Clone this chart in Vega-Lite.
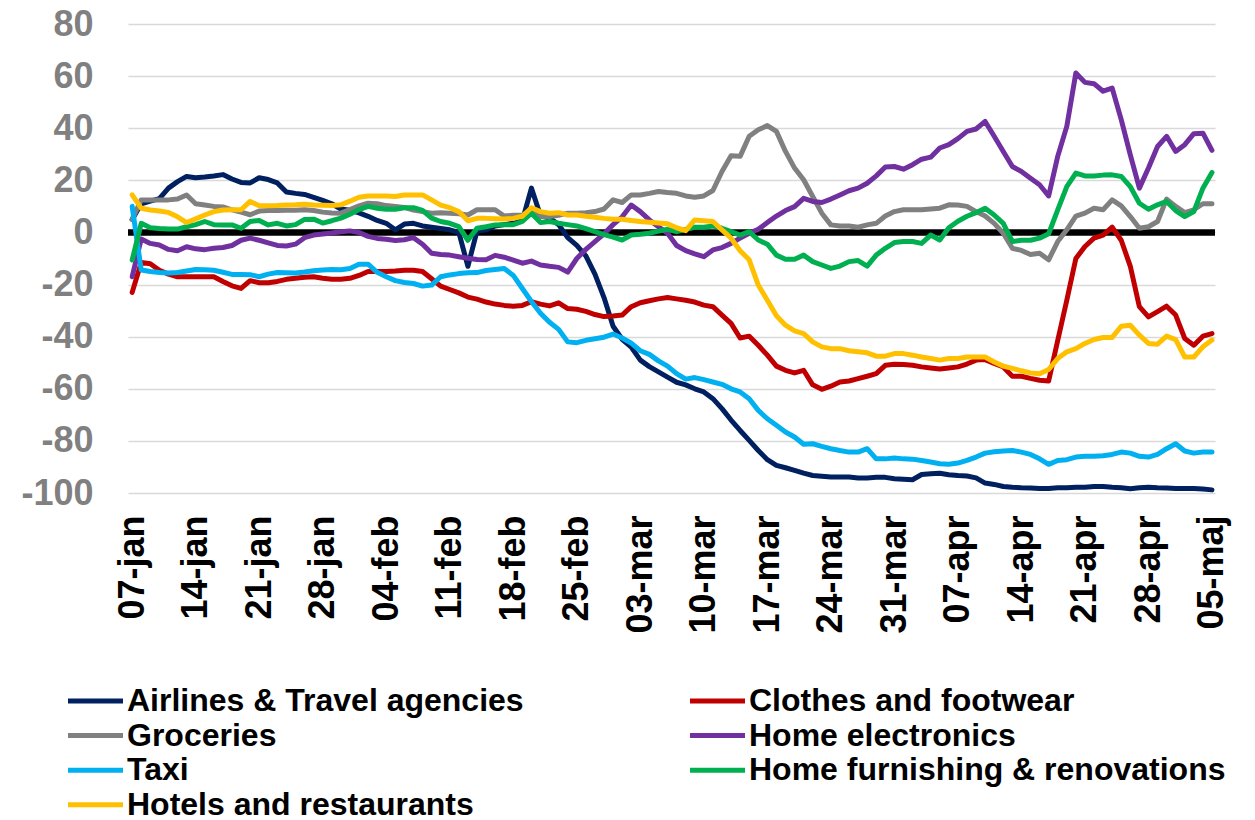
{
  "$schema": "https://vega.github.io/schema/vega-lite/v6.json",
  "width": 1087,
  "height": 469,
  "autosize": {"type": "none"},
  "padding": {"left": 128, "top": 24, "right": 40, "bottom": 327},
  "background": "white",
  "config": {
    "view": {"stroke": null},
    "font": "Liberation Sans",
    "axisY": {
      "title": null,
      "domain": false,
      "ticks": false,
      "grid": true,
      "gridColor": "#d9d9d9",
      "gridWidth": 1.5,
      "labelFont": "Liberation Sans",
      "labelFontSize": 36,
      "labelFontWeight": "bold",
      "labelColor": "#808080",
      "labelPadding": 35,
      "labelExpr": "'' + datum.value"
    }
  },
  "layer": [
    {
      "data": {"values": [{}]},
      "mark": {"type": "rule", "color": "black", "strokeWidth": 6.5},
      "encoding": {
        "y": {
          "datum": 0,
          "type": "quantitative",
          "scale": {"domain": [-100, 80], "nice": false, "zero": false},
          "axis": {"title": null, "values": [-100, -80, -60, -40, -20, 0, 20, 40, 60, 80]}
        }
      }
    },
    {
      "data": {
        "format": {"parse": {"d": "utc:'%Y-%m-%d'"}},
        "values": [
{"d":"2020-01-07","airlines":5,"clothes":-23,"groceries":5,"electronics":-17,"taxi":10,"furnishing":-10.6,"hotels":14.4},
{"d":"2020-01-08","airlines":11,"clothes":-11.5,"groceries":12.5,"electronics":-2.5,"taxi":-14.4,"furnishing":3.5,"hotels":9.3},
{"d":"2020-01-09","airlines":12,"clothes":-12,"groceries":12.5,"electronics":-4.2,"taxi":-15,"furnishing":1.8,"hotels":8.6},
{"d":"2020-01-10","airlines":13,"clothes":-14.5,"groceries":12.5,"electronics":-4.8,"taxi":-15.4,"furnishing":1.5,"hotels":8.2},
{"d":"2020-01-11","airlines":17,"clothes":-16,"groceries":12.5,"electronics":-6.5,"taxi":-15.6,"furnishing":1.3,"hotels":7.7},
{"d":"2020-01-12","airlines":19.5,"clothes":-17,"groceries":12.8,"electronics":-7,"taxi":-15.4,"furnishing":1.3,"hotels":6},
{"d":"2020-01-13","airlines":21.5,"clothes":-17,"groceries":14.4,"electronics":-5.5,"taxi":-14.8,"furnishing":2.2,"hotels":3.8},
{"d":"2020-01-14","airlines":21,"clothes":-17,"groceries":11,"electronics":-6.3,"taxi":-14.2,"furnishing":3,"hotels":5.2},
{"d":"2020-01-15","airlines":21.3,"clothes":-17,"groceries":10.5,"electronics":-6.6,"taxi":-14.3,"furnishing":4.2,"hotels":6.7},
{"d":"2020-01-16","airlines":21.7,"clothes":-17,"groceries":10,"electronics":-6.1,"taxi":-14.5,"furnishing":3,"hotels":8},
{"d":"2020-01-17","airlines":22.2,"clothes":-18.8,"groceries":9.8,"electronics":-5.8,"taxi":-15.3,"furnishing":2.9,"hotels":8.6},
{"d":"2020-01-18","airlines":20.5,"clothes":-20.5,"groceries":8.7,"electronics":-5,"taxi":-16.1,"furnishing":2.9,"hotels":8.7},
{"d":"2020-01-19","airlines":19.2,"clothes":-21.5,"groceries":7.8,"electronics":-3,"taxi":-16.1,"furnishing":1.6,"hotels":8.7},
{"d":"2020-01-20","airlines":19,"clothes":-18.5,"groceries":6.8,"electronics":-2.2,"taxi":-16.2,"furnishing":4.2,"hotels":11.9},
{"d":"2020-01-21","airlines":21,"clothes":-19.3,"groceries":8.2,"electronics":-3,"taxi":-17,"furnishing":4.6,"hotels":10.2},
{"d":"2020-01-22","airlines":20.3,"clothes":-19.3,"groceries":8.4,"electronics":-4,"taxi":-16,"furnishing":2.9,"hotels":10.2},
{"d":"2020-01-23","airlines":19,"clothes":-18.8,"groceries":8.4,"electronics":-5,"taxi":-15.4,"furnishing":3.5,"hotels":10.3},
{"d":"2020-01-24","airlines":15.5,"clothes":-18,"groceries":8.5,"electronics":-5.2,"taxi":-15.5,"furnishing":2.5,"hotels":10.5},
{"d":"2020-01-25","airlines":15,"clothes":-17.6,"groceries":8.5,"electronics":-4.5,"taxi":-15.6,"furnishing":3,"hotels":10.6},
{"d":"2020-01-26","airlines":14.6,"clothes":-17.2,"groceries":8.7,"electronics":-2,"taxi":-15.2,"furnishing":5,"hotels":10.8},
{"d":"2020-01-27","airlines":13.5,"clothes":-17,"groceries":8.4,"electronics":-1,"taxi":-14.7,"furnishing":5.1,"hotels":10.5},
{"d":"2020-01-28","airlines":12.3,"clothes":-17.6,"groceries":7.8,"electronics":-0.6,"taxi":-14.4,"furnishing":3.6,"hotels":10.4},
{"d":"2020-01-29","airlines":11,"clothes":-18,"groceries":7.5,"electronics":-0.2,"taxi":-14.2,"furnishing":4.5,"hotels":10.3},
{"d":"2020-01-30","airlines":9,"clothes":-18,"groceries":7.4,"electronics":0.3,"taxi":-14.3,"furnishing":5.5,"hotels":10.6},
{"d":"2020-01-31","airlines":8.5,"clothes":-17.6,"groceries":8.8,"electronics":0.6,"taxi":-13.8,"furnishing":7,"hotels":12},
{"d":"2020-02-01","airlines":7.5,"clothes":-16.5,"groceries":10.2,"electronics":0,"taxi":-12.2,"furnishing":8.8,"hotels":13.5},
{"d":"2020-02-02","airlines":6.2,"clothes":-15,"groceries":11.2,"electronics":-1.5,"taxi":-12.2,"furnishing":10,"hotels":14},
{"d":"2020-02-03","airlines":4.6,"clothes":-15,"groceries":11,"electronics":-2.3,"taxi":-15.3,"furnishing":9.3,"hotels":14},
{"d":"2020-02-04","airlines":3.5,"clothes":-15,"groceries":10.3,"electronics":-2.6,"taxi":-17,"furnishing":8.9,"hotels":14},
{"d":"2020-02-05","airlines":1,"clothes":-14.8,"groceries":10,"electronics":-3.1,"taxi":-18.5,"furnishing":8.9,"hotels":13.8},
{"d":"2020-02-06","airlines":3.2,"clothes":-14.5,"groceries":9.6,"electronics":-2.8,"taxi":-19.2,"furnishing":9.5,"hotels":14.4},
{"d":"2020-02-07","airlines":3.5,"clothes":-14.5,"groceries":8.6,"electronics":-2,"taxi":-19.6,"furnishing":9.5,"hotels":14.4},
{"d":"2020-02-08","airlines":2.5,"clothes":-15,"groceries":8,"electronics":-4.5,"taxi":-20.6,"furnishing":8.5,"hotels":14.4},
{"d":"2020-02-09","airlines":2,"clothes":-17.8,"groceries":7.4,"electronics":-8,"taxi":-20.2,"furnishing":5.5,"hotels":12.5},
{"d":"2020-02-10","airlines":1.5,"clothes":-20.6,"groceries":7.6,"electronics":-8.5,"taxi":-17,"furnishing":4.2,"hotels":10.5},
{"d":"2020-02-11","airlines":1,"clothes":-21.9,"groceries":7.4,"electronics":-8.7,"taxi":-16.3,"furnishing":3.5,"hotels":9.5},
{"d":"2020-02-12","airlines":0,"clothes":-23.2,"groceries":7.2,"electronics":-9.3,"taxi":-15.8,"furnishing":2.2,"hotels":8},
{"d":"2020-02-13","airlines":-13,"clothes":-24.8,"groceries":6.7,"electronics":-9.9,"taxi":-15.5,"furnishing":-3,"hotels":4.5},
{"d":"2020-02-14","airlines":0.5,"clothes":-25.6,"groceries":8.7,"electronics":-10.4,"taxi":-15.4,"furnishing":1.6,"hotels":5.4},
{"d":"2020-02-15","airlines":1,"clothes":-26.7,"groceries":8.7,"electronics":-10.5,"taxi":-14.6,"furnishing":2.2,"hotels":5.4},
{"d":"2020-02-16","airlines":2.5,"clothes":-27.5,"groceries":8.7,"electronics":-8.8,"taxi":-14.2,"furnishing":2.9,"hotels":5.3},
{"d":"2020-02-17","airlines":3,"clothes":-28,"groceries":6.3,"electronics":-9.5,"taxi":-13.8,"furnishing":3,"hotels":5.2},
{"d":"2020-02-18","airlines":3.5,"clothes":-28.3,"groceries":6.6,"electronics":-10.6,"taxi":-16.5,"furnishing":3,"hotels":5.4},
{"d":"2020-02-19","airlines":4.5,"clothes":-28,"groceries":6.6,"electronics":-11.8,"taxi":-21.5,"furnishing":4.2,"hotels":6.2},
{"d":"2020-02-20","airlines":17,"clothes":-26.6,"groceries":8.6,"electronics":-11,"taxi":-26.5,"furnishing":7.4,"hotels":9.5},
{"d":"2020-02-21","airlines":6.5,"clothes":-27.5,"groceries":6.1,"electronics":-12.5,"taxi":-31,"furnishing":3.8,"hotels":8},
{"d":"2020-02-22","airlines":5.5,"clothes":-28.2,"groceries":6.1,"electronics":-13,"taxi":-34.5,"furnishing":4.2,"hotels":7.4},
{"d":"2020-02-23","airlines":3,"clothes":-27,"groceries":6.6,"electronics":-13.4,"taxi":-37.2,"furnishing":3.5,"hotels":7.6},
{"d":"2020-02-24","airlines":-2,"clothes":-29.2,"groceries":7.4,"electronics":-15.2,"taxi":-42,"furnishing":3,"hotels":6.7},
{"d":"2020-02-25","airlines":-5,"clothes":-29.5,"groceries":7.4,"electronics":-10,"taxi":-42.3,"furnishing":2.5,"hotels":6.7},
{"d":"2020-02-26","airlines":-9,"clothes":-30.3,"groceries":7.6,"electronics":-6.5,"taxi":-41.4,"furnishing":1.5,"hotels":6.2},
{"d":"2020-02-27","airlines":-16,"clothes":-31.5,"groceries":8,"electronics":-3.5,"taxi":-40.8,"furnishing":0.3,"hotels":5.8},
{"d":"2020-02-28","airlines":-25,"clothes":-32.3,"groceries":9,"electronics":-0.5,"taxi":-40.2,"furnishing":-0.8,"hotels":5.4},
{"d":"2020-02-29","airlines":-36,"clothes":-32.1,"groceries":12.5,"electronics":3,"taxi":-39,"furnishing":-1.8,"hotels":5.1},
{"d":"2020-03-01","airlines":-41,"clothes":-31.7,"groceries":11.5,"electronics":6,"taxi":-40.5,"furnishing":-2.9,"hotels":5.1},
{"d":"2020-03-02","airlines":-44,"clothes":-28.5,"groceries":14.4,"electronics":10.5,"taxi":-42.5,"furnishing":-1,"hotels":4.6},
{"d":"2020-03-03","airlines":-49,"clothes":-27,"groceries":14.4,"electronics":8,"taxi":-45.4,"furnishing":-0.7,"hotels":4.2},
{"d":"2020-03-04","airlines":-51.5,"clothes":-26.2,"groceries":15,"electronics":4.8,"taxi":-46.8,"furnishing":-0.3,"hotels":3.9},
{"d":"2020-03-05","airlines":-53.5,"clothes":-25.5,"groceries":15.7,"electronics":2.2,"taxi":-49.3,"furnishing":0.5,"hotels":3.6},
{"d":"2020-03-06","airlines":-55.5,"clothes":-25,"groceries":15.3,"electronics":-0.3,"taxi":-51.3,"furnishing":1.2,"hotels":3.3},
{"d":"2020-03-07","airlines":-57.5,"clothes":-25.5,"groceries":15,"electronics":-5,"taxi":-54.2,"furnishing":0.3,"hotels":1.8},
{"d":"2020-03-08","airlines":-58.5,"clothes":-26,"groceries":14,"electronics":-7,"taxi":-56.3,"furnishing":1.2,"hotels":0.7},
{"d":"2020-03-09","airlines":-60,"clothes":-26.7,"groceries":13.5,"electronics":-8.2,"taxi":-55.7,"furnishing":2,"hotels":4.8},
{"d":"2020-03-10","airlines":-61.2,"clothes":-27.9,"groceries":14,"electronics":-9.3,"taxi":-56.5,"furnishing":2,"hotels":4.5},
{"d":"2020-03-11","airlines":-63.8,"clothes":-28.5,"groceries":16.1,"electronics":-6.7,"taxi":-57.4,"furnishing":2.5,"hotels":4.2},
{"d":"2020-03-12","airlines":-67.6,"clothes":-31.7,"groceries":23.4,"electronics":-5.8,"taxi":-58.3,"furnishing":1.6,"hotels":1},
{"d":"2020-03-13","airlines":-72,"clothes":-34.9,"groceries":29.4,"electronics":-4.2,"taxi":-60,"furnishing":0.3,"hotels":-2.2},
{"d":"2020-03-14","airlines":-76,"clothes":-40.5,"groceries":29.2,"electronics":-2.2,"taxi":-61.2,"furnishing":-1,"hotels":-7},
{"d":"2020-03-15","airlines":-79.8,"clothes":-39.8,"groceries":36.9,"electronics":-0.3,"taxi":-63.8,"furnishing":0.3,"hotels":-10.5},
{"d":"2020-03-16","airlines":-83.7,"clothes":-43.3,"groceries":39.4,"electronics":1.2,"taxi":-68.3,"furnishing":-2.9,"hotels":-20.2},
{"d":"2020-03-17","airlines":-87.2,"clothes":-47.1,"groceries":41,"electronics":3.8,"taxi":-71.5,"furnishing":-4.5,"hotels":-26},
{"d":"2020-03-18","airlines":-89.4,"clothes":-51.3,"groceries":38.8,"electronics":6.3,"taxi":-74,"furnishing":-8.7,"hotels":-32},
{"d":"2020-03-19","airlines":-90.3,"clothes":-52.9,"groceries":31.1,"electronics":8.4,"taxi":-76.6,"furnishing":-10.3,"hotels":-35.6},
{"d":"2020-03-20","airlines":-91.3,"clothes":-53.9,"groceries":24.7,"electronics":9.9,"taxi":-78.5,"furnishing":-10.3,"hotels":-37.8},
{"d":"2020-03-21","airlines":-92.4,"clothes":-52.9,"groceries":20.2,"electronics":13.1,"taxi":-81.3,"furnishing":-8.7,"hotels":-38.8},
{"d":"2020-03-22","airlines":-93.3,"clothes":-58.5,"groceries":13.8,"electronics":11.9,"taxi":-81.1,"furnishing":-11.2,"hotels":-42},
{"d":"2020-03-23","airlines":-93.6,"clothes":-60.2,"groceries":7.4,"electronics":11.5,"taxi":-82.1,"furnishing":-12.5,"hotels":-43.9},
{"d":"2020-03-24","airlines":-93.9,"clothes":-59,"groceries":2.9,"electronics":12.8,"taxi":-83,"furnishing":-13.8,"hotels":-44.6},
{"d":"2020-03-25","airlines":-93.9,"clothes":-57.4,"groceries":2.5,"electronics":14.4,"taxi":-83.7,"furnishing":-12.9,"hotels":-44.6},
{"d":"2020-03-26","airlines":-93.9,"clothes":-57,"groceries":2.5,"electronics":16,"taxi":-84.3,"furnishing":-11.2,"hotels":-45.4},
{"d":"2020-03-27","airlines":-94.2,"clothes":-56.1,"groceries":2,"electronics":17,"taxi":-84.3,"furnishing":-10.8,"hotels":-45.8},
{"d":"2020-03-28","airlines":-94.2,"clothes":-55.2,"groceries":2.9,"electronics":18.9,"taxi":-83,"furnishing":-12.9,"hotels":-46.2},
{"d":"2020-03-29","airlines":-94,"clothes":-54.2,"groceries":3.5,"electronics":21.7,"taxi":-86.9,"furnishing":-8.7,"hotels":-47.5},
{"d":"2020-03-30","airlines":-94,"clothes":-51,"groceries":6.3,"electronics":25.1,"taxi":-86.9,"furnishing":-6.1,"hotels":-47.5},
{"d":"2020-03-31","airlines":-94.5,"clothes":-50.6,"groceries":8,"electronics":25.3,"taxi":-86.6,"furnishing":-3.9,"hotels":-46.5},
{"d":"2020-04-01","airlines":-94.7,"clothes":-50.7,"groceries":8.7,"electronics":24.3,"taxi":-86.9,"furnishing":-3.5,"hotels":-46.5},
{"d":"2020-04-02","airlines":-94.9,"clothes":-51,"groceries":8.7,"electronics":26,"taxi":-87,"furnishing":-3.5,"hotels":-47.1},
{"d":"2020-04-03","airlines":-92.9,"clothes":-51.6,"groceries":8.7,"electronics":28.1,"taxi":-87.5,"furnishing":-4.2,"hotels":-47.8},
{"d":"2020-04-04","airlines":-92.6,"clothes":-52,"groceries":9,"electronics":28.9,"taxi":-88.1,"furnishing":-1,"hotels":-48.4},
{"d":"2020-04-05","airlines":-92.4,"clothes":-52.4,"groceries":9.3,"electronics":32.4,"taxi":-88.8,"furnishing":-2.9,"hotels":-49},
{"d":"2020-04-06","airlines":-93,"clothes":-52,"groceries":10.6,"electronics":33.7,"taxi":-89,"furnishing":1.8,"hotels":-48.4},
{"d":"2020-04-07","airlines":-93.3,"clothes":-51.6,"groceries":10.5,"electronics":36,"taxi":-88.5,"furnishing":4.3,"hotels":-48.4},
{"d":"2020-04-08","airlines":-93.5,"clothes":-50.5,"groceries":10,"electronics":38.8,"taxi":-87.5,"furnishing":6.2,"hotels":-47.8},
{"d":"2020-04-09","airlines":-94.2,"clothes":-49,"groceries":8,"electronics":39.7,"taxi":-86.2,"furnishing":7.6,"hotels":-47.8},
{"d":"2020-04-10","airlines":-96.2,"clothes":-48.8,"groceries":6.3,"electronics":42.6,"taxi":-84.7,"furnishing":9.3,"hotels":-47.8},
{"d":"2020-04-11","airlines":-96.7,"clothes":-50.3,"groceries":3.5,"electronics":36.9,"taxi":-84.2,"furnishing":6.7,"hotels":-49.7},
{"d":"2020-04-12","airlines":-97.5,"clothes":-51.6,"groceries":-0.3,"electronics":31.1,"taxi":-83.9,"furnishing":3.5,"hotels":-51.3},
{"d":"2020-04-13","airlines":-97.8,"clothes":-55.2,"groceries":-6.1,"electronics":25.3,"taxi":-83.7,"furnishing":-3.5,"hotels":-52.2},
{"d":"2020-04-14","airlines":-98,"clothes":-55.2,"groceries":-6.9,"electronics":23.4,"taxi":-84.3,"furnishing":-3,"hotels":-53.1},
{"d":"2020-04-15","airlines":-98.1,"clothes":-56,"groceries":-8.5,"electronics":20.8,"taxi":-85.2,"furnishing":-3,"hotels":-53.9},
{"d":"2020-04-16","airlines":-98.3,"clothes":-56.7,"groceries":-8,"electronics":18.3,"taxi":-86.9,"furnishing":-2.2,"hotels":-54.2},
{"d":"2020-04-17","airlines":-98.3,"clothes":-57,"groceries":-10.5,"electronics":14,"taxi":-89,"furnishing":-0.5,"hotels":-52.6},
{"d":"2020-04-18","airlines":-98,"clothes":-41.5,"groceries":-3.5,"electronics":29.2,"taxi":-87.5,"furnishing":8.7,"hotels":-48.4},
{"d":"2020-04-19","airlines":-98,"clothes":-26,"groceries":1,"electronics":40.7,"taxi":-87.2,"furnishing":17.6,"hotels":-45.8},
{"d":"2020-04-20","airlines":-97.8,"clothes":-10,"groceries":6.3,"electronics":61.2,"taxi":-86.2,"furnishing":22.8,"hotels":-44.6},
{"d":"2020-04-21","airlines":-97.8,"clothes":-5.4,"groceries":7.4,"electronics":57.6,"taxi":-85.9,"furnishing":21.7,"hotels":-42.6},
{"d":"2020-04-22","airlines":-97.5,"clothes":-2.2,"groceries":9.3,"electronics":57.1,"taxi":-85.9,"furnishing":21.7,"hotels":-41.1},
{"d":"2020-04-23","airlines":-97.5,"clothes":-1,"groceries":8.7,"electronics":54.2,"taxi":-85.7,"furnishing":22,"hotels":-40.3},
{"d":"2020-04-24","airlines":-97.8,"clothes":2,"groceries":12.5,"electronics":55.4,"taxi":-85.2,"furnishing":22.1,"hotels":-40.3},
{"d":"2020-04-25","airlines":-98,"clothes":-3,"groceries":10.2,"electronics":43.3,"taxi":-84.3,"furnishing":21.5,"hotels":-36},
{"d":"2020-04-26","airlines":-98.4,"clothes":-13,"groceries":6.1,"electronics":29.8,"taxi":-84.7,"furnishing":17.6,"hotels":-35.6},
{"d":"2020-04-27","airlines":-98,"clothes":-28.5,"groceries":1.6,"electronics":17,"taxi":-85.9,"furnishing":11.2,"hotels":-39.4},
{"d":"2020-04-28","airlines":-97.8,"clothes":-32.4,"groceries":2.2,"electronics":24.7,"taxi":-86.2,"furnishing":8.9,"hotels":-42.6},
{"d":"2020-04-29","airlines":-98,"clothes":-30.4,"groceries":4.2,"electronics":33,"taxi":-85.2,"furnishing":10.6,"hotels":-42.9},
{"d":"2020-04-30","airlines":-98.1,"clothes":-28.3,"groceries":12.8,"electronics":36.9,"taxi":-83,"furnishing":11.9,"hotels":-39.8},
{"d":"2020-05-01","airlines":-98.3,"clothes":-31.7,"groceries":10,"electronics":31.1,"taxi":-81.1,"furnishing":8.4,"hotels":-41.1},
{"d":"2020-05-02","airlines":-98.3,"clothes":-40.7,"groceries":7.6,"electronics":33.7,"taxi":-83.9,"furnishing":6.1,"hotels":-47.8},
{"d":"2020-05-03","airlines":-98.3,"clothes":-43.3,"groceries":8.7,"electronics":37.9,"taxi":-84.7,"furnishing":8,"hotels":-47.8},
{"d":"2020-05-04","airlines":-98.5,"clothes":-39.8,"groceries":11,"electronics":38.1,"taxi":-84.3,"furnishing":17,"hotels":-43.9},
{"d":"2020-05-05","airlines":-98.8,"clothes":-38.8,"groceries":11,"electronics":31.5,"taxi":-84.3,"furnishing":23,"hotels":-41.3}
        ]
      },
      "transform": [
        {"fold": ["airlines", "clothes", "groceries", "electronics", "taxi", "furnishing", "hotels"], "as": ["series", "value"]}
      ],
      "mark": {"type": "line", "strokeWidth": 5, "strokeJoin": "round", "strokeCap": "round"},
      "encoding": {
        "x": {
          "field": "d",
          "type": "temporal",
          "scale": {
            "type": "utc",
            "domain": [
              {"year": 2020, "month": 1, "date": 6, "hours": 13, "utc": true},
              {"year": 2020, "month": 5, "date": 5, "hours": 8, "utc": true}
            ]
          },
          "axis": {
            "title": null,
            "values": [
              {"year": 2020, "month": 1, "date": 7, "utc": true},
              {"year": 2020, "month": 1, "date": 14, "utc": true},
              {"year": 2020, "month": 1, "date": 21, "utc": true},
              {"year": 2020, "month": 1, "date": 28, "utc": true},
              {"year": 2020, "month": 2, "date": 4, "utc": true},
              {"year": 2020, "month": 2, "date": 11, "utc": true},
              {"year": 2020, "month": 2, "date": 18, "utc": true},
              {"year": 2020, "month": 2, "date": 25, "utc": true},
              {"year": 2020, "month": 3, "date": 3, "utc": true},
              {"year": 2020, "month": 3, "date": 10, "utc": true},
              {"year": 2020, "month": 3, "date": 17, "utc": true},
              {"year": 2020, "month": 3, "date": 24, "utc": true},
              {"year": 2020, "month": 3, "date": 31, "utc": true},
              {"year": 2020, "month": 4, "date": 7, "utc": true},
              {"year": 2020, "month": 4, "date": 14, "utc": true},
              {"year": 2020, "month": 4, "date": 21, "utc": true},
              {"year": 2020, "month": 4, "date": 28, "utc": true},
              {"year": 2020, "month": 5, "date": 5, "utc": true}
            ],
            "labelExpr": "replace(lower(utcFormat(datum.value, '%d-%b')), 'may', 'maj')",
            "domain": false,
            "ticks": false,
            "grid": false,
            "labelAngle": -90,
            "labelAlign": "right",
            "labelBaseline": "middle",
            "labelFont": "Liberation Sans",
            "labelFontSize": 36,
            "labelFontWeight": "bold",
            "labelColor": "black",
            "labelPadding": 22,
            "labelOverlap": false,
            "labelFlush": false,
            "labelBound": false
          }
        },
        "y": {
          "field": "value",
          "type": "quantitative",
          "scale": {"domain": [-100, 80], "nice": false, "zero": false},
          "axis": {"title": null, "values": [-100, -80, -60, -40, -20, 0, 20, 40, 60, 80]}
        },
        "color": {
          "field": "series",
          "type": "nominal",
          "scale": {
            "domain": ["airlines", "groceries", "taxi", "hotels", "clothes", "electronics", "furnishing"],
            "range": ["#002060", "#808080", "#00B0F0", "#FFC000", "#C00000", "#7030A0", "#00B050"]
          },
          "legend": {
            "orient": "none",
            "legendX": -33,
            "legendY": 661,
            "columns": 2,
            "title": null,
            "padding": 0,
            "symbolType": "M-8.6,0H2.4",
            "symbolSize": 100,
            "symbolStrokeWidth": 5,
            "labelFont": "Liberation Sans",
            "labelFontSize": 32,
            "labelFontWeight": "bold",
            "labelColor": "black",
            "labelOffset": 0,
            "labelLimit": 800,
            "rowPadding": 2.6,
            "columnPadding": 156,
            "labelExpr": "datum.label == 'airlines' ? 'Airlines & Travel agencies' : datum.label == 'clothes' ? 'Clothes and footwear' : datum.label == 'groceries' ? 'Groceries' : datum.label == 'electronics' ? 'Home electronics' : datum.label == 'taxi' ? 'Taxi' : datum.label == 'furnishing' ? 'Home furnishing & renovations' : 'Hotels and restaurants'"
          }
        }
      }
    }
  ]
}
